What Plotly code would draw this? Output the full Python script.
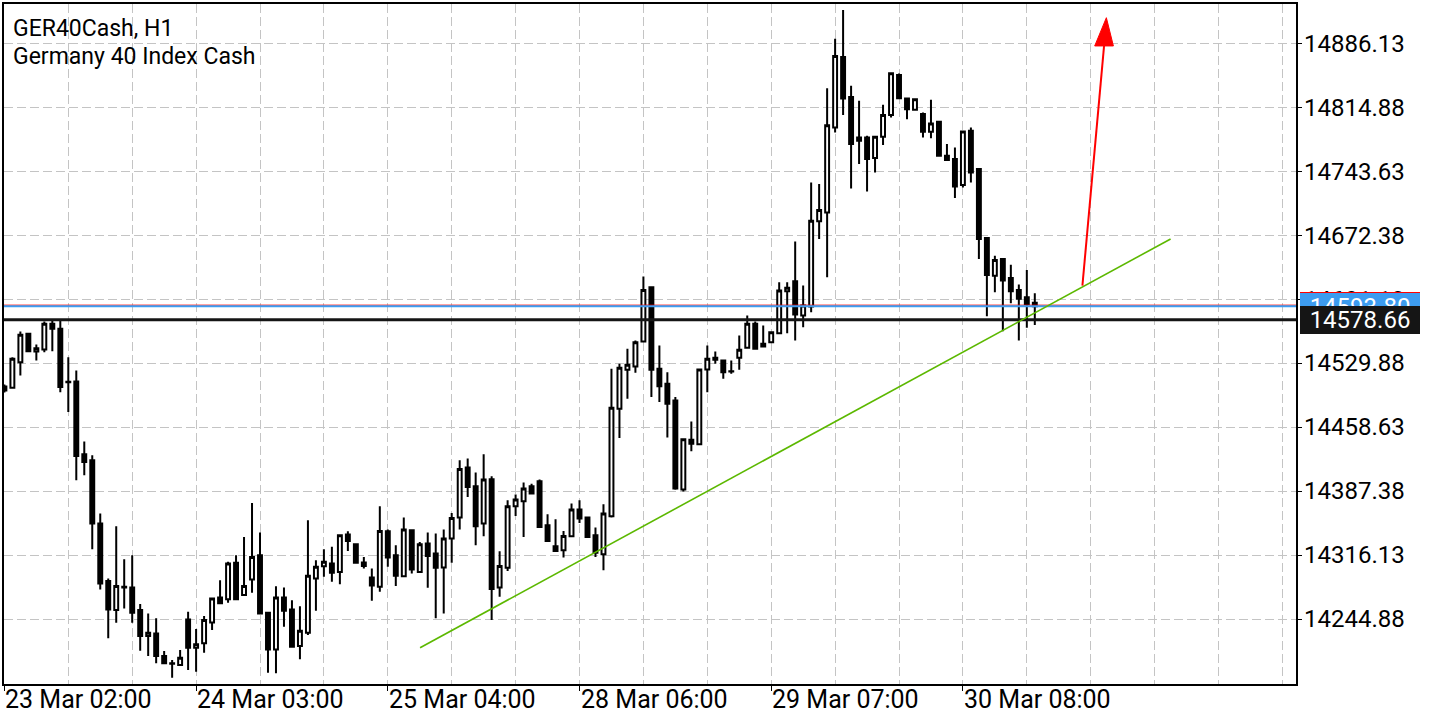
import plotly.graph_objects as go

# ---------------- data ----------------
bar_index = list(range(130))

open_ = [14504.3, 14502.8, 14531.3, 14562.9, 14543.2, 14545.5, 14574.1, 14568.5, 14509.5, 14509.8,
         14428.6, 14421.9, 14351.4, 14287.2, 14254.9, 14280.8, 14280.2, 14254.9, 14225.9, 14228.9,
         14203.7, 14195.6, 14193.7, 14244.5, 14212.9, 14217.8, 14241.2, 14269.0, 14267.1, 14307.6,
         14271.6, 14289.1, 14316.1, 14251.9, 14211.1, 14269.0, 14255.7, 14214.8, 14229.6, 14290.2,
         14303.9, 14306.9, 14297.5, 14339.2, 14328.4, 14308.0, 14291.3, 14280.8, 14342.8, 14316.1,
         14292.7, 14343.9, 14297.5, 14329.2, 14318.0, 14302.4, 14334.7, 14358.1, 14413.8, 14392.9,
         14351.4, 14400.7, 14280.2, 14302.0, 14370.7, 14376.2, 14392.9, 14398.5, 14349.5, 14326.2,
         14321.7, 14337.3, 14367.0, 14358.1, 14338.4, 14317.2, 14359.5, 14479.4, 14522.9, 14526.5,
         14554.4, 14614.8, 14524.0, 14507.3, 14488.7, 14389.3, 14444.9, 14439.7, 14523.2, 14536.2,
         14533.2, 14521.3, 14536.2, 14547.3, 14574.1, 14551.8, 14553.6, 14563.6, 14610.4, 14621.5,
         14583.3, 14593.3, 14688.3, 14698.3, 14792.9, 14871.7, 14827.1, 14781.8, 14781.8, 14758.9,
         14782.6, 14806.8, 14851.6, 14825.2, 14812.7, 14807.9, 14788.2, 14799.3, 14761.4, 14757.8,
         14728.8, 14789.3, 14746.6, 14669.8, 14627.8, 14646.4, 14625.3, 14611.9, 14603.7, 14597.5]

high = [14506.5, 14536.9, 14565.5, 14563.6, 14551.0, 14576.6, 14577.7, 14577.7, 14536.9, 14522.1,
        14443.0, 14427.5, 14362.6, 14290.2, 14348.4, 14311.7, 14316.1, 14261.6, 14251.2, 14245.7,
        14209.3, 14199.2, 14210.4, 14253.0, 14233.7, 14248.2, 14268.3, 14288.3, 14308.7, 14316.1,
        14336.5, 14374.4, 14341.4, 14253.0, 14281.6, 14280.2, 14266.0, 14259.3, 14355.1, 14310.6,
        14322.8, 14325.4, 14339.5, 14342.8, 14329.2, 14314.2, 14301.3, 14370.7, 14344.7, 14327.3,
        14358.1, 14343.9, 14330.9, 14341.4, 14340.3, 14344.7, 14363.2, 14421.9, 14423.8, 14408.2,
        14428.6, 14404.1, 14320.6, 14377.4, 14383.7, 14397.1, 14395.9, 14400.4, 14361.8, 14356.2,
        14343.2, 14373.7, 14377.4, 14358.1, 14346.9, 14372.9, 14524.0, 14529.5, 14546.2, 14555.5,
        14626.7, 14615.6, 14549.9, 14520.2, 14492.4, 14445.3, 14465.3, 14524.0, 14549.9, 14543.2,
        14533.2, 14533.2, 14561.0, 14583.3, 14576.6, 14572.2, 14565.5, 14620.4, 14620.4, 14666.0,
        14616.7, 14731.7, 14729.9, 14836.8, 14892.0, 14924.0, 14839.4, 14822.7, 14783.7, 14783.7,
        14818.2, 14854.2, 14853.1, 14826.3, 14825.7, 14809.6, 14823.8, 14799.3, 14774.5, 14770.7,
        14789.3, 14792.9, 14747.0, 14670.5, 14650.1, 14646.9, 14639.8, 14617.8, 14634.2, 14608.1]

low = [14497.6, 14501.7, 14516.5, 14543.2, 14533.2, 14542.5, 14543.6, 14497.9, 14475.7, 14399.6,
       14405.2, 14322.8, 14277.9, 14223.4, 14240.8, 14256.8, 14240.8, 14209.6, 14203.7, 14195.6,
       14194.5, 14179.5, 14193.7, 14188.1, 14186.2, 14207.4, 14232.6, 14262.4, 14263.0, 14266.0,
       14270.5, 14274.2, 14250.5, 14185.1, 14184.4, 14236.3, 14213.0, 14200.0, 14227.1, 14254.1,
       14292.0, 14286.4, 14283.8, 14320.9, 14307.6, 14301.3, 14265.2, 14275.3, 14303.1, 14281.9,
       14292.7, 14295.7, 14296.4, 14279.7, 14245.7, 14251.2, 14307.6, 14344.7, 14381.0, 14327.3,
       14337.3, 14243.8, 14269.7, 14298.6, 14359.9, 14336.5, 14384.8, 14346.9, 14332.0, 14320.9,
       14313.6, 14336.5, 14352.1, 14336.5, 14314.2, 14299.4, 14358.1, 14446.7, 14490.6, 14519.5,
       14554.4, 14492.4, 14486.8, 14447.2, 14389.0, 14387.2, 14431.9, 14438.6, 14497.9, 14529.5,
       14512.8, 14518.4, 14522.9, 14546.2, 14546.2, 14548.8, 14553.6, 14562.9, 14563.6, 14555.5,
       14570.3, 14587.0, 14668.7, 14626.0, 14787.4, 14806.8, 14725.0, 14752.2, 14721.7, 14742.8,
       14773.4, 14804.1, 14825.7, 14802.3, 14812.7, 14781.8, 14781.1, 14761.4, 14756.7, 14714.3,
       14726.2, 14731.7, 14646.4, 14582.5, 14609.3, 14565.8, 14597.0, 14555.5, 14569.6, 14572.9]

close = [14499.8, 14535.1, 14561.8, 14543.6, 14546.9, 14574.1, 14568.5, 14503.5, 14508.8, 14426.7,
         14420.0, 14351.4, 14284.6, 14255.7, 14281.9, 14280.0, 14251.9, 14225.9, 14229.6, 14203.7,
         14195.6, 14195.0, 14201.8, 14212.9, 14216.7, 14243.8, 14267.9, 14262.4, 14306.9, 14267.1,
         14281.9, 14314.2, 14251.2, 14211.1, 14269.0, 14254.1, 14214.0, 14231.9, 14293.1, 14303.1,
         14308.7, 14296.4, 14338.4, 14332.0, 14307.6, 14304.2, 14282.4, 14343.2, 14313.6, 14293.1,
         14344.7, 14300.2, 14328.4, 14315.3, 14302.0, 14334.7, 14357.7, 14412.2, 14392.2, 14348.4,
         14400.4, 14278.3, 14304.2, 14370.7, 14378.1, 14390.4, 14384.8, 14347.6, 14332.0, 14320.9,
         14337.6, 14367.0, 14357.0, 14336.5, 14318.7, 14362.6, 14480.6, 14525.1, 14528.4, 14553.6,
         14611.9, 14522.9, 14504.6, 14485.0, 14390.4, 14445.3, 14440.5, 14523.2, 14535.1, 14534.0,
         14520.2, 14520.8, 14545.1, 14574.1, 14546.2, 14548.8, 14564.7, 14611.1, 14614.2, 14584.4,
         14594.4, 14689.1, 14701.0, 14795.6, 14872.8, 14825.2, 14774.5, 14778.1, 14757.8, 14782.6,
         14806.8, 14853.5, 14825.7, 14813.4, 14824.6, 14788.2, 14797.4, 14761.4, 14756.7, 14727.3,
         14788.5, 14742.8, 14668.7, 14628.6, 14645.3, 14622.3, 14610.4, 14601.9, 14596.3, 14593.8]

date_tick_bars = [0, 24, 48, 72, 96, 120]
date_tick_labels = ["23 Mar 02:00", "24 Mar 03:00", "25 Mar 04:00",
                    "28 Mar 06:00", "29 Mar 07:00", "30 Mar 08:00"]

price_ticks = [14244.88, 14316.13, 14387.38, 14458.63, 14529.88,
               14601.13, 14672.38, 14743.63, 14814.88, 14886.13]

bid_price = 14593.80
ask_price = 14594.90
hline_price = 14578.66

trend_x = [52.04, 146.0]
trend_y = [14212.9, 14668.7]

arrow_tail = [134.96, 14616.7]
arrow_base = [137.67, 14883.9]
arrow_head_x = [136.5, 137.96, 138.84]
arrow_head_y = [14883.9, 14915.4, 14883.9]

title_lines = ["GER40Cash, H1", "Germany 40 Index Cash"]

# ---------------- figure ----------------
FONT = "Roboto, 'Noto Sans', sans-serif"
GRID = "#c4c4c4"
DASH = "9px,4px"

fig = go.Figure()
fig.add_trace(go.Candlestick(
    x=bar_index, open=open_, high=high, low=low, close=close,
    increasing=dict(line=dict(color="black", width=2), fillcolor="white"),
    decreasing=dict(line=dict(color="black", width=2), fillcolor="black"),
    whiskerwidth=0, showlegend=False, hoverinfo="skip",
))

shapes = [
    dict(type="line", xref="paper", x0=0, x1=1, yref="y", y0=ask_price, y1=ask_price,
         line=dict(color="#ff0000", width=1), layer="above"),
    dict(type="line", xref="paper", x0=0, x1=1, yref="y", y0=bid_price, y1=bid_price,
         line=dict(color="#3d9cf0", width=2), layer="above"),
    dict(type="line", xref="paper", x0=0, x1=1, yref="y", y0=hline_price, y1=hline_price,
         line=dict(color="#151515", width=3), layer="above"),
    dict(type="line", xref="x", yref="y", x0=trend_x[0], y0=trend_y[0], x1=trend_x[1], y1=trend_y[1],
         line=dict(color="#5cb800", width=1.6), layer="above"),
    dict(type="line", xref="x", yref="y", x0=arrow_tail[0], y0=arrow_tail[1],
         x1=arrow_base[0], y1=arrow_base[1], line=dict(color="#ff0000", width=2), layer="above"),
    dict(type="path", xref="x", yref="y",
         path="M {} {} L {} {} L {} {} Z".format(arrow_head_x[0], arrow_head_y[0],
                                                 arrow_head_x[1], arrow_head_y[1],
                                                 arrow_head_x[2], arrow_head_y[2]),
         fillcolor="#ff0000", line=dict(color="#ff0000", width=1), layer="above"),
]

annotations = []
# chart title
for k, txt in enumerate(title_lines):
    annotations.append(dict(text=txt, xref="paper", yref="paper", x=0.0055, y=[0.9633, 0.9222][k],
                            xanchor="left", yanchor="middle", showarrow=False,
                            font=dict(family=FONT, size=23, color="black")))
# date labels (left aligned on their tick)
for b, lab in zip(date_tick_bars, date_tick_labels):
    annotations.append(dict(text=lab, xref="x", yref="paper", x=b, y=-0.0235, xshift=-1,
                            xanchor="left", yanchor="middle", showarrow=False,
                            font=dict(family=FONT, size=25, color="black")))
# price scale labels (left aligned next to the right axis)
scale_x = (1302 - 2) / 1294
for v in price_ticks:
    annotations.append(dict(text="{:.2f}".format(v), xref="paper", yref="y", x=scale_x, y=v,
                            xanchor="left", yanchor="middle", showarrow=False,
                            font=dict(family=FONT, size=24, color="black")))
# current price labels (the ask label is hidden under the bid label)
label_x = (1300 - 2) / 1294
for price, bg, h, show_text in [(ask_price, "#ff0000", 27, False),
                                (bid_price, "#3d9cf0", 27, True),
                                (hline_price, "#151515", 28, True)]:
    annotations.append(dict(text="{:.2f}".format(price) if show_text else " ",
                            xref="paper", yref="y", x=label_x, y=price,
                            xanchor="left", yanchor="middle", showarrow=False,
                            width=120, height=h, bgcolor=bg, borderpad=0, borderwidth=0,
                            font=dict(family=FONT, size=24, color="white")))

fig.update_layout(
    width=1440, height=720,
    margin=dict(l=2, r=144, t=3, b=36, pad=0),
    paper_bgcolor="white", plot_bgcolor="white",
    shapes=shapes, annotations=annotations,
    font=dict(family=FONT, size=24, color="black"),
    xaxis=dict(
        range=[-0.05, 161.7], rangeslider=dict(visible=False),
        showline=True, linecolor="black", linewidth=2, mirror=True,
        tickmode="array", tickvals=date_tick_bars, showticklabels=False,
        ticks="outside", ticklen=5, tickcolor="black", tickwidth=1,
        showgrid=True, gridcolor=GRID, griddash=DASH, gridwidth=1,
        minor=dict(tick0=0, dtick=8, showgrid=True, gridcolor=GRID, griddash=DASH, ticks=""),
        zeroline=False, fixedrange=True,
    ),
    yaxis=dict(
        side="right", range=[14172.5, 14930.66],
        tickmode="array", tickvals=price_ticks, showticklabels=False,
        showline=True, linecolor="black", linewidth=2, mirror=True,
        ticks="outside", ticklen=4, tickcolor="black", tickwidth=1,
        showgrid=True, gridcolor=GRID, griddash=DASH, gridwidth=1,
        zeroline=False, fixedrange=True,
    ),
)

fig.write_html("out.html", config={"displayModeBar": False},
               post_script="document.body.style.margin='0';document.body.style.overflow='hidden';")
